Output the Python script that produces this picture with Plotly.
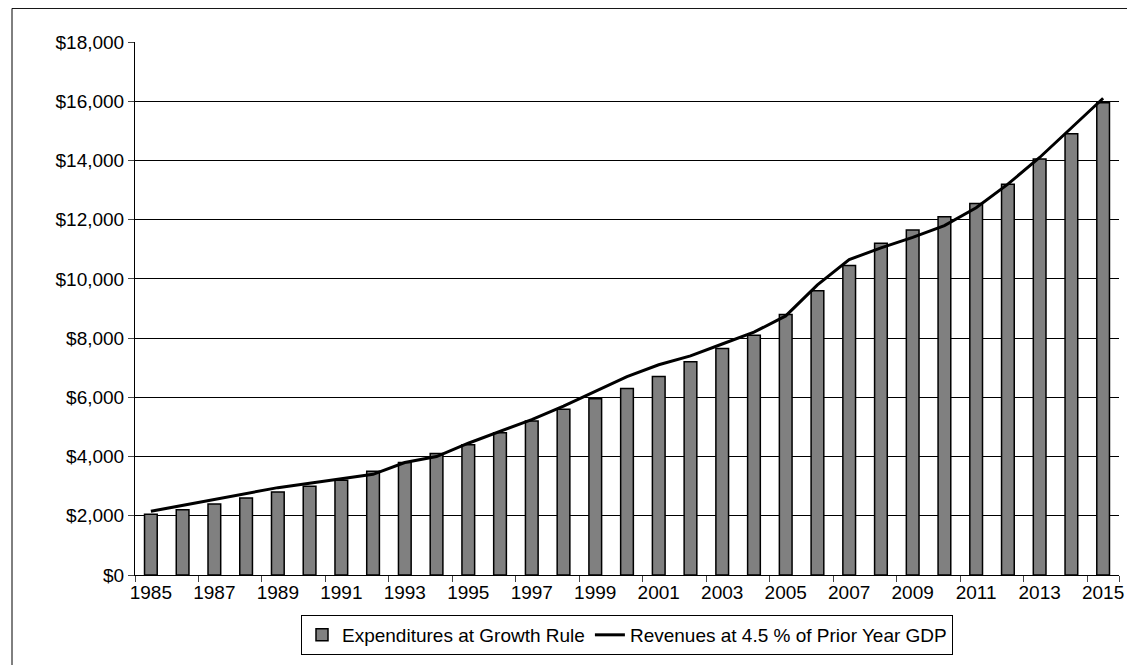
import plotly.graph_objects as go

years = list(range(1985, 2016))
expenditures = [2050, 2200, 2400, 2600, 2800, 3000, 3200, 3500, 3800, 4100, 4400,
                4800, 5200, 5600, 5950, 6300, 6700, 7200, 7650, 8100, 8800, 9600,
                10450, 11200, 11650, 12100, 12550, 13200, 14050, 14900, 15950]
revenues = [2150, 2350, 2550, 2750, 2950, 3100, 3250, 3400, 3800, 4000, 4450,
            4850, 5250, 5700, 6200, 6700, 7100, 7400, 7800, 8200, 8750, 9800,
            10650, 11050, 11400, 11800, 12400, 13200, 14100, 15100, 16100]
tick_years = [str(y) for y in years[::2]]

fig = go.Figure()
fig.add_trace(go.Bar(x=[str(y) for y in years], y=expenditures,
                     name="Expenditures at Growth Rule",
                     marker=dict(color="#808080", line=dict(color="black", width=1.5)),
                     width=0.4))
fig.add_trace(go.Scatter(x=[str(y) for y in years], y=revenues, mode="lines",
                         name="Revenues at 4.5 % of Prior Year GDP",
                         line=dict(color="black", width=3)))

fig.update_layout(
    width=1135, height=665,
    paper_bgcolor="white", plot_bgcolor="white",
    font=dict(family="Liberation Sans, Arial", size=19, color="black"),
    margin=dict(l=127, r=24, t=34, b=98, autoexpand=False),
    showlegend=True,
    legend=dict(orientation="h", x=0.5, xanchor="center", y=-0.075, yanchor="top",
                bordercolor="black", borderwidth=1, font=dict(size=19),
                tracegroupgap=0, itemwidth=30),
    shapes=[dict(type="rect", xref="paper", yref="paper", x0=-0.125, x1=1.021,
                 y0=-0.175, y1=1.063, line=dict(color="black", width=1))],
)
fig.update_xaxes(type="category", tickvals=tick_years, ticktext=tick_years,
                 showline=True, linecolor="black", ticks="outside", ticklen=6,
                 tickson="boundaries", showgrid=False, tickangle=0)
fig.update_yaxes(range=[0, 18000], dtick=2000, tickprefix="$", tickformat=",",
                 showgrid=True, gridcolor="black", gridwidth=1, showline=True,
                 linecolor="black", ticks="outside", ticklen=6, zeroline=False)
fig.write_html("out.html")
